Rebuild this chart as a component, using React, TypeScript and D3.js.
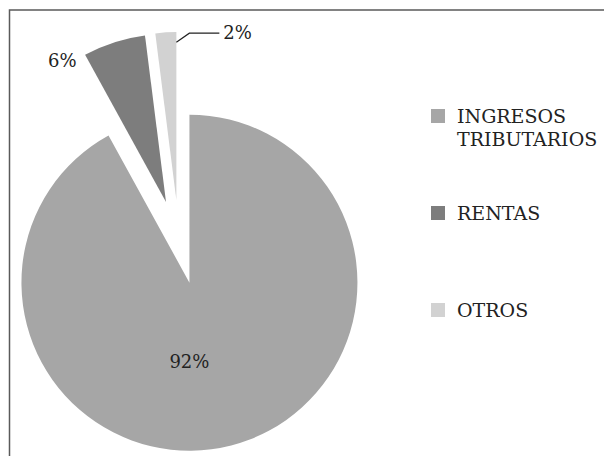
import { useEffect, useRef } from 'react';
import * as d3 from 'd3';

const categories = ['INGRESOS TRIBUTARIOS', 'RENTAS', 'OTROS'];
const legendLines = [['INGRESOS', 'TRIBUTARIOS'], ['RENTAS'], ['OTROS']];
const values = [92, 6, 2];
const colors = ['#a6a6a6', '#7d7d7d', '#d2d2d2'];

const width = 604;
const height = 456;
const center = { x: 179, y: 242 };
const radius = 168;
const explode = 42;
const font = "'DejaVu Serif', serif";

export default function App() {
    const svgRef = useRef<SVGSVGElement>(null);

    useEffect(() => {
        const svg = d3.select(svgRef.current);
        svg.selectAll('*').remove();

        // chart frame, right and bottom sides fall outside the picture
        svg.append('rect')
            .attr('x', 9.5).attr('y', 10)
            .attr('width', 620).attr('height', 470)
            .attr('fill', 'white')
            .attr('stroke', '#5a5a5a')
            .attr('stroke-width', 1.5);

        const total = d3.sum(values);
        const slices = d3.pie<number>().sort(null).startAngle(0).endAngle(2 * Math.PI)(values);
        const arc = d3.arc<d3.PieArcDatum<number>>().innerRadius(0).outerRadius(radius);

        // every slice pushed out along its mid angle
        const apex = (d: d3.PieArcDatum<number>) => {
            const mid = (d.startAngle + d.endAngle) / 2;
            return [center.x + explode * Math.sin(mid), center.y - explode * Math.cos(mid)];
        };
        const polar = (p: number[], a: number, r: number) => [p[0] + r * Math.sin(a), p[1] - r * Math.cos(a)];

        svg.append('g').selectAll('path')
            .data(slices)
            .join('path')
            .attr('transform', d => `translate(${apex(d)[0]}, ${apex(d)[1]})`)
            .attr('d', arc)
            .attr('fill', (d, i) => colors[i]);

        const pct = (v: number) => `${Math.round((v / total) * 100)}%`;
        const label = (x: number, y: number, anchor: string, txt: string) =>
            svg.append('text')
                .attr('x', x).attr('y', y)
                .attr('dy', '0.35em')
                .attr('text-anchor', anchor)
                .style('font-family', font).style('font-size', '18px')
                .attr('fill', '#222')
                .text(txt);

        // 92% inside the big slice
        const big = slices[0];
        const bigPos = polar(apex(big), Math.PI, radius * 0.47);
        label(bigPos[0], bigPos[1], 'middle', pct(big.value));

        // 6% outside, left of the slice
        const mid = slices[1];
        const midPos = polar(apex(mid), mid.startAngle - 0.1, radius * 1.1);
        label(midPos[0] + 1, midPos[1] + 11, 'middle', pct(mid.value));

        // 2% with a leader line
        const small = slices[2];
        const p0 = polar(apex(small), small.endAngle, radius * 0.94);
        const p1 = [p0[0] + 13, p0[1] - 9];
        const p2 = [p1[0] + 30, p1[1]];
        svg.append('polyline')
            .attr('points', [p0, p1, p2].map(p => p.join(',')).join(' '))
            .attr('fill', 'none')
            .attr('stroke', '#222')
            .attr('stroke-width', 1.2);
        label(p2[0] + 4, p2[1], 'start', pct(small.value));

        // legend
        const legendY = d3.scalePoint<string>().domain(categories).range([123, 317]);
        const legend = svg.append('g').selectAll('g')
            .data(categories)
            .join('g')
            .attr('transform', d => `translate(431, ${legendY(d)})`);

        legend.append('rect')
            .attr('x', 0).attr('y', -14)
            .attr('width', 14).attr('height', 14)
            .attr('fill', (d, i) => colors[i]);

        legend.append('text')
            .style('font-family', font).style('font-size', '19px')
            .attr('fill', '#222')
            .selectAll('tspan')
            .data((d, i) => legendLines[i])
            .join('tspan')
            .attr('x', 26)
            .attr('dy', (d, i) => (i === 0 ? 0 : 23))
            .text(d => d);
    }, []);

    return (
        <svg ref={svgRef} width={width} height={height}
            style={{ position: 'absolute', left: 0, top: 0 }} />
    );
}
